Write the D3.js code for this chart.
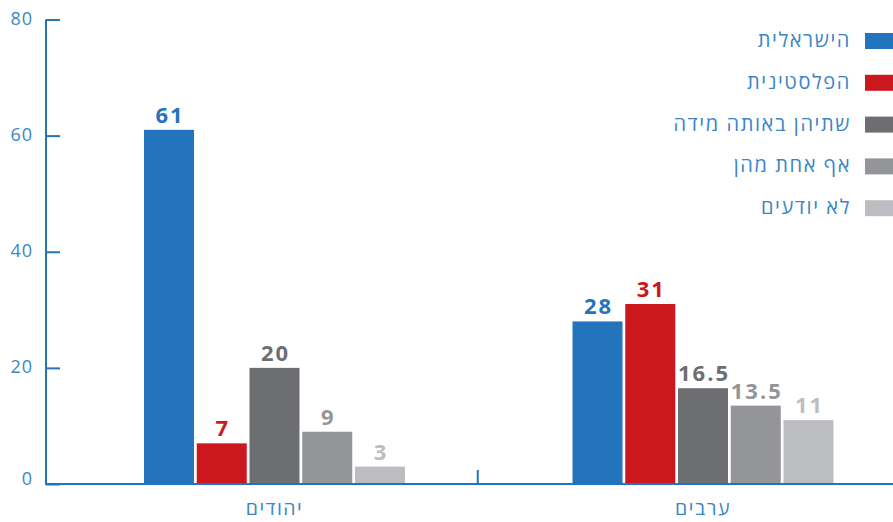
<!DOCTYPE html>
<html>
<head>
<meta charset="utf-8">
<script src="https://cdn.jsdelivr.net/npm/d3@7"></script>
<style>
  html, body { margin: 0; padding: 0; background: #ffffff; }
  svg { display: block; font-family: "Open Sans", "DejaVu Sans", sans-serif; }
</style>
</head>
<body>
<svg id="chart" width="893" height="522"></svg>
<script>
// Population groups along the x axis
const groups = ["יהודים", "ערבים"];
// Answer options (legend order)
const series = ["הישראלית", "הפלסטינית", "שתיהן באותה מידה", "אף אחת מהן", "לא יודעים"];
const seriesColors = ["#2474bd", "#cc171e", "#6d6e71", "#949598", "#bcbdc0"];
// Percent answering each option, per group
const jewsValues = [61, 7, 20, 9, 3];
const arabsValues = [28, 31, 16.5, 13.5, 11];
const yTicks = [0, 20, 40, 60, 80];

const valuesByGroup = { "יהודים": jewsValues, "ערבים": arabsValues };
const axisBlue = "#2474bd";
const textBlue = "#3a86c7";

const svg = d3.select("#chart");

const y = d3.scaleLinear().domain([0, 80]).range([484, 19.5]);
const x0 = d3.scaleBand().domain(groups).range([60.25, 917.25]).padding(0);
const x1 = d3.scaleBand().domain(series).range([0, x0.bandwidth()])
  .paddingInner(0.052).paddingOuter(1.588);
const color = d3.scaleOrdinal().domain(series).range(seriesColors);

// Bars with value labels
const g = svg.append("g");
groups.forEach(grp => {
  const data = series.map((s, i) => ({ s, v: valuesByGroup[grp][i] }));
  const gg = g.append("g").attr("transform", `translate(${x0(grp)},0)`);
  gg.selectAll("rect").data(data).join("rect")
    .attr("x", d => x1(d.s))
    .attr("y", d => y(d.v))
    .attr("width", x1.bandwidth())
    .attr("height", d => y(0) - y(d.v))
    .attr("fill", d => color(d.s));
  gg.selectAll("text").data(data).join("text")
    .attr("x", d => x1(d.s) + x1.bandwidth() / 2 + 1)
    .attr("y", d => y(d.v) - 7)
    .attr("text-anchor", "middle")
    .attr("font-size", 22)
    .attr("font-weight", 700)
    .attr("letter-spacing", 2)
    .attr("fill", d => color(d.s))
    .text(d => d.v);
});

// Y axis
const yAxis = svg.append("g").attr("transform", "translate(46,0)")
  .call(d3.axisRight(y).tickValues(yTicks).tickSize(14).tickFormat(""));
yAxis.select(".domain").attr("d", `M0,${y(80)}V${y(0)}`).attr("stroke", axisBlue).attr("stroke-width", 2);
yAxis.selectAll(".tick line").attr("stroke", axisBlue).attr("stroke-width", 2);
svg.append("g").selectAll("text").data(yTicks).join("text")
  .attr("x", 33)
  .attr("y", d => y(d) + (d === 0 ? 1 : 5))
  .attr("text-anchor", "end")
  .attr("font-size", 18)
  .attr("letter-spacing", 1)
  .attr("fill", textBlue)
  .text(d => d);

// X axis baseline, group divider and group labels
svg.append("line")
  .attr("x1", 45).attr("x2", 893)
  .attr("y1", y(0)).attr("y2", y(0))
  .attr("stroke", axisBlue).attr("stroke-width", 2);
svg.append("line")
  .attr("x1", x0(groups[1]) - 11).attr("x2", x0(groups[1]) - 11)
  .attr("y1", y(0)).attr("y2", y(0) - 14)
  .attr("stroke", axisBlue).attr("stroke-width", 2);
svg.append("g").selectAll("text").data(groups).join("text")
  .attr("x", d => x0(d) + x0.bandwidth() / 2)
  .attr("y", 515)
  .attr("text-anchor", "middle")
  .attr("font-size", 19.5)
  .attr("letter-spacing", 1.5)
  .attr("fill", textBlue)
  .text(d => d);

// Legend
const legend = svg.append("g");
series.forEach((s, i) => {
  const cy = 41 + i * 41.8;
  legend.append("rect")
    .attr("x", 865).attr("y", cy - 8)
    .attr("width", 28).attr("height", 16)
    .attr("fill", color(s));
  legend.append("text")
    .attr("x", 851).attr("y", cy + 6)
    .attr("text-anchor", "end")
    .attr("font-size", 20)
    .attr("letter-spacing", 1.6)
    .attr("fill", textBlue)
    .text(s);
});
</script>
</body>
</html>
